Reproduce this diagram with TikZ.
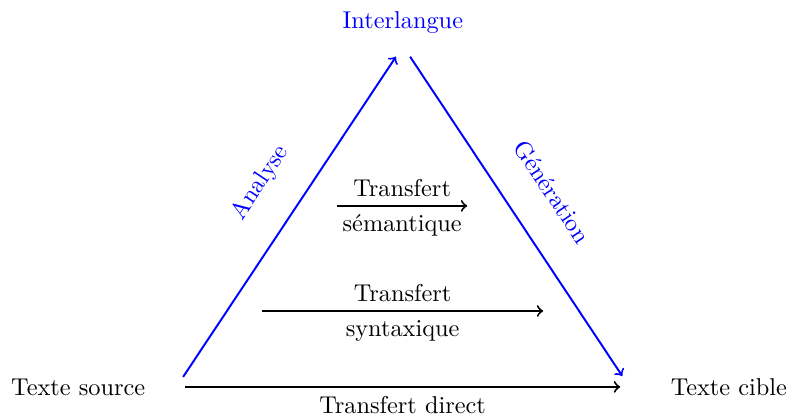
\documentclass[tikz,border=0pt]{standalone}
\usepackage{amsmath, amsfonts}

\begin{document}
\begin{tikzpicture}
  \useasboundingbox (0,0) rectangle (11.37,6.01);
  \node (src) at (1.13,0.42) {Texte source};
  \node (cib) at (10.53,0.42) {Texte cible};
  \node[blue] (inter) at (5.82,5.69) {Interlangue};

  \coordinate (srcA) at (2.645,0.564);
  \coordinate (interA) at (5.72,5.19);
  \coordinate (interG) at (5.925,5.19);
  \coordinate (cibG) at (8.99,0.578);
  \draw [->, thick, blue] (srcA) -- (interA);
  \draw [->, thick, blue] (interG) -- (cibG);
  \node[blue, rotate=56.35] (ana) at (3.76,3.37) {Analyse};
  \node[blue, rotate=-56.4] (gen) at (7.98,3.24) {Génération};

  \coordinate (semL) at (4.87,3.035);
  \coordinate (semR) at (6.75,3.035);
  \draw [->, thick] (semL) -- node[above] (semT) {Transfert} node[below] (semB) {sémantique} (semR);

  \coordinate (synL) at (3.786,1.517);
  \coordinate (synR) at (7.847,1.517);
  \draw [->, thick] (synL) -- node[above] (synT) {Transfert} node[below] (synB) {syntaxique} (synR);

  \coordinate (srcD) at (2.673,0.42);
  \coordinate (cibD) at (8.96,0.42);
  \draw [->, thick] (srcD) -- node[below] (dirB) {Transfert direct} (cibD);

\end{tikzpicture}
\end{document}
